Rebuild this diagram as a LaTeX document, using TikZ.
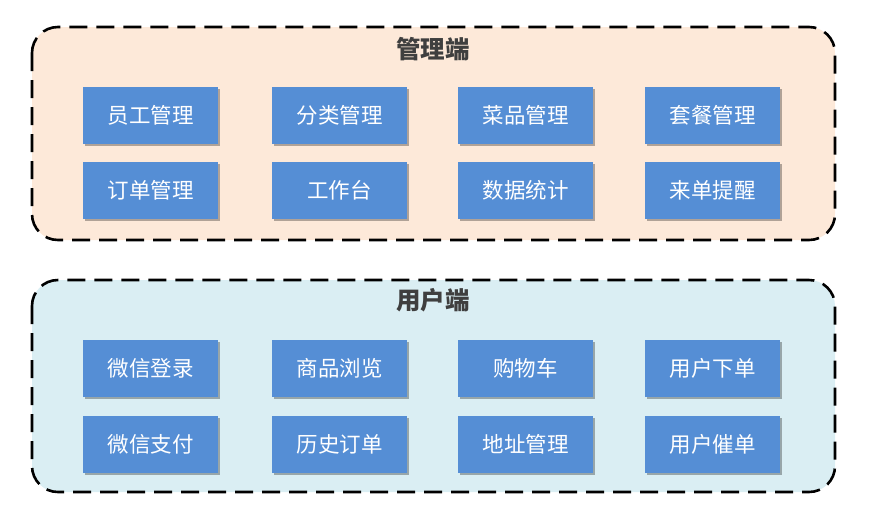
\documentclass[tikz,border=0pt]{standalone}
\usepackage{fontspec}
\newfontfamily\cjk{Noto Sans CJK SC}
\usetikzlibrary{shadows}
\definecolor{peach}{HTML}{FDE9D9}
\definecolor{paleblue}{HTML}{DAEEF3}
\definecolor{itemblue}{HTML}{558ED5}
\definecolor{titlegray}{HTML}{3F3F3F}

\begin{document}
\begin{tikzpicture}[x=1pt,y=-1pt,
  item/.style={fill=itemblue, text=white, minimum width=135pt, minimum height=57pt, inner sep=0pt,
    font=\cjk\fontsize{21.5}{21.5}\selectfont,
    drop shadow={shadow xshift=2pt, shadow yshift=-2pt, fill=black, opacity=0.3}},
  panel/.style={line width=2.6pt, dash pattern=on 18pt off 9pt, rounded corners=26pt},
  title/.style={text=titlegray, font=\cjk\bfseries\fontsize{24.5}{24.5}\selectfont}]
\useasboundingbox (0,0) rectangle (891,507);
% admin side
\draw [panel, fill=peach] (32,27) rectangle (835,240);
\node [title] (admin) at (433,49) {管理端};
\node [item] (staff) at (150.5,115) {员工管理};
\node [item] (category) at (339.5,115) {分类管理};
\node [item] (dish) at (525.5,115) {菜品管理};
\node [item] (setmeal) at (712.5,115) {套餐管理};
\node [item] (order) at (150.5,190.5) {订单管理};
\node [item] (workbench) at (339.5,190.5) {工作台};
\node [item] (stats) at (525.5,190.5) {数据统计};
\node [item] (remind) at (712.5,190.5) {来单提醒};
% user side
\draw [panel, fill=paleblue] (32,280) rectangle (835,492);
\node [title] (user) at (433,300) {用户端};
\node [item] (login) at (150.5,368.5) {微信登录};
\node [item] (browse) at (339.5,368.5) {商品浏览};
\node [item] (cart) at (525.5,368.5) {购物车};
\node [item] (place) at (712.5,368.5) {用户下单};
\node [item] (pay) at (150.5,444) {微信支付};
\node [item] (history) at (339.5,444) {历史订单};
\node [item] (address) at (525.5,444) {地址管理};
\node [item] (urge) at (712.5,444) {用户催单};
\end{tikzpicture}
\end{document}
